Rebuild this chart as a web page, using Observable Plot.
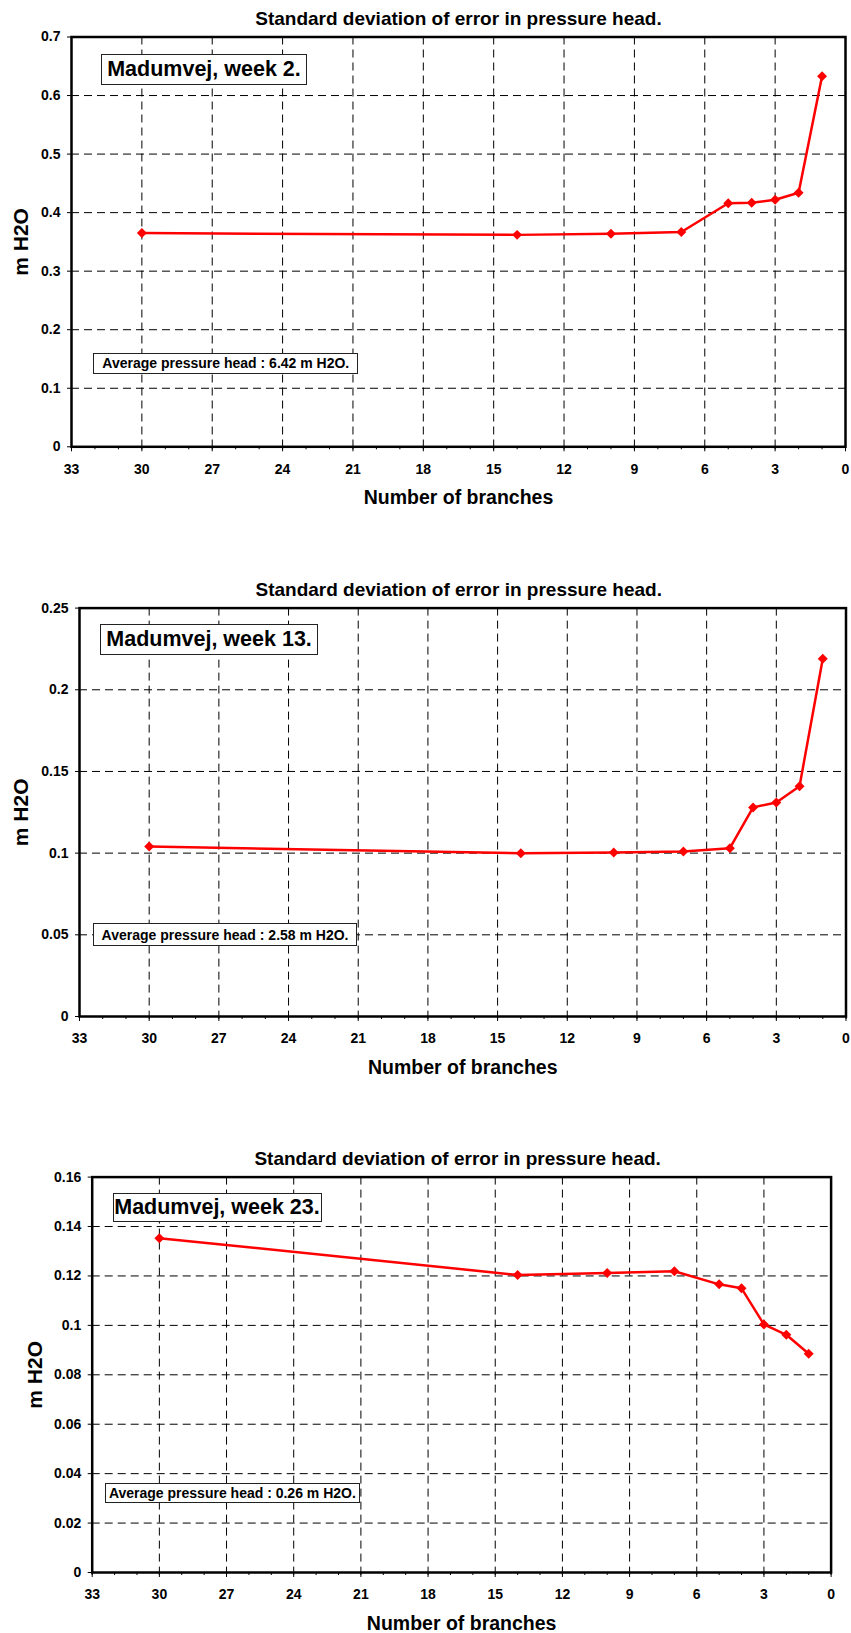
<!DOCTYPE html>
<html>
<head>
<meta charset="utf-8">
<script src="https://cdn.jsdelivr.net/npm/d3@7"></script>
<script src="https://cdn.jsdelivr.net/npm/@observablehq/plot@0.6"></script>
<style>
  html, body { margin: 0; padding: 0; background: #fff; }
  #wrap { position: relative; width: 851px; height: 1633px; background: #fff; font-family: "Liberation Sans", Arial, sans-serif; }
  #wrap svg { position: absolute; left: 0; }
  .box { position: absolute; box-sizing: border-box; border: 1.5px solid #222; background: #fff;
         display: flex; align-items: center; justify-content: center; font-weight: bold; color: #000; white-space: nowrap; }
</style>
</head>
<body>
<div id="wrap"></div>
<script>
// ---- data ----
const branches = [30, 14, 10, 7, 5, 4, 3, 2, 1];
const week2  = [0.365, 0.362, 0.364, 0.367, 0.416, 0.417, 0.422, 0.434, 0.633];
const week13 = [0.104, 0.100, 0.1004, 0.101, 0.103, 0.128, 0.131, 0.141, 0.219];
const week23 = [0.1353, 0.1204, 0.1212, 0.1219, 0.1166, 0.115, 0.1004, 0.0962, 0.0885];

const xTicks = [33, 30, 27, 24, 21, 18, 15, 12, 9, 6, 3, 0];
const xMinorTicks = d3.range(0, 34);
const yTicks2  = [0, 0.1, 0.2, 0.3, 0.4, 0.5, 0.6, 0.7];
const yTicks13 = [0, 0.05, 0.1, 0.15, 0.2, 0.25];
const yTicks23 = [0, 0.02, 0.04, 0.06, 0.08, 0.1, 0.12, 0.14, 0.16];

const chartTitle = "Standard deviation of error in pressure head.";
const xTitle = "Number of branches";
const yTitle = "m H2O";
const labels2  = ["Madumvej, week 2.",  "Average pressure head : 6.42 m H2O."];
const labels13 = ["Madumvej, week 13.", "Average pressure head : 2.58 m H2O."];
const labels23 = ["Madumvej, week 23.", "Average pressure head : 0.26 m H2O."];

// ---- layout ----
const panels = [
  { values: week2,  yTicks: yTicks2,  labels: labels2,  top: 0,    height: 530, mt: 36.5, mb: 83.7, ml: 71,   mr: 6,    titleDx: 0,  yDx: -50,
    boxA: [101, 54, 206, 30.5], boxB: [93.3, 352.7, 265, 21.5] },
  { values: week13, yTicks: yTicks13, labels: labels13, top: 560,  height: 530, mt: 47.6, mb: 74,   ml: 79,   mr: 5.5,  titleDx: -4, yDx: -58,
    boxA: [100.3, 624.3, 217.5, 30.7], boxB: [93.3, 923.3, 263.5, 22.7] },
  { values: week23, yTicks: yTicks23, labels: labels23, top: 1130, height: 503, mt: 46.6, mb: 61,   ml: 91.7, mr: 20.4, titleDx: -4, yDx: -57,
    boxA: [112.5, 1193.3, 209, 29], boxB: [104.9, 1482.7, 255, 20.6] }
];

const wrap = document.getElementById("wrap");

for (const p of panels) {
  const data = branches.map((b, i) => ({ b, v: p.values[i] }));
  const yMax = p.yTicks[p.yTicks.length - 1];
  const svg = Plot.plot({
    width: 851,
    height: p.height,
    marginTop: p.mt, marginBottom: p.mb, marginLeft: p.ml, marginRight: p.mr,
    style: { fontFamily: "'Liberation Sans', Arial, sans-serif", fontWeight: "bold", background: "transparent", overflow: "visible", color: "#000" },
    x: { type: "linear", domain: [33, 0] },
    y: { type: "linear", domain: [0, yMax] },
    marks: [
      Plot.gridX(xTicks.slice(1, -1), { stroke: "#000", strokeOpacity: 1, strokeDasharray: "8,5" }),
      Plot.gridY(p.yTicks.slice(1, -1), { stroke: "#000", strokeOpacity: 1, strokeDasharray: "8,5" }),
      Plot.axisX(xMinorTicks, { tickSize: 3, tickFormat: () => "", label: null }),
      Plot.axisX(xTicks, { tickSize: 5, tickPadding: 12, fontSize: 14, tickFormat: d => String(d), label: null }),
      Plot.axisY(p.yTicks, { tickSize: 4, tickPadding: 7, fontSize: 14, tickFormat: d => String(d), label: null }),
      Plot.frame({ stroke: "#000", strokeWidth: 2.5 }),
      Plot.line(data, { x: "b", y: "v", stroke: "#ff0000", strokeWidth: 2.5 }),
      Plot.dot(data, { x: "b", y: "v", symbol: "diamond2", r: 4.5, fill: "#ff0000", stroke: "none" }),
      Plot.text([chartTitle], { frameAnchor: "top", dx: p.titleDx, dy: -12, lineAnchor: "bottom", fontSize: 19, fontWeight: "bold" }),
      Plot.text([xTitle], { frameAnchor: "bottom", dy: 57, lineAnchor: "bottom", fontSize: 19.5, fontWeight: "bold" }),
      Plot.text([yTitle], { frameAnchor: "left", dx: p.yDx, rotate: -90, textAnchor: "middle", lineAnchor: "middle", fontSize: 21, fontWeight: "bold" })
    ]
  });
  svg.style.top = p.top + "px";
  wrap.appendChild(svg);

  const mk = (text, r, fs) => {
    const d = document.createElement("div");
    d.className = "box";
    d.textContent = text;
    d.style.left = r[0] + "px";
    d.style.top = r[1] + "px";
    d.style.width = r[2] + "px";
    d.style.height = r[3] + "px";
    d.style.fontSize = fs + "px";
    wrap.appendChild(d);
  };
  mk(p.labels[0], p.boxA, 21.5);
  mk(p.labels[1], p.boxB, 14);
}
</script>
</body>
</html>
